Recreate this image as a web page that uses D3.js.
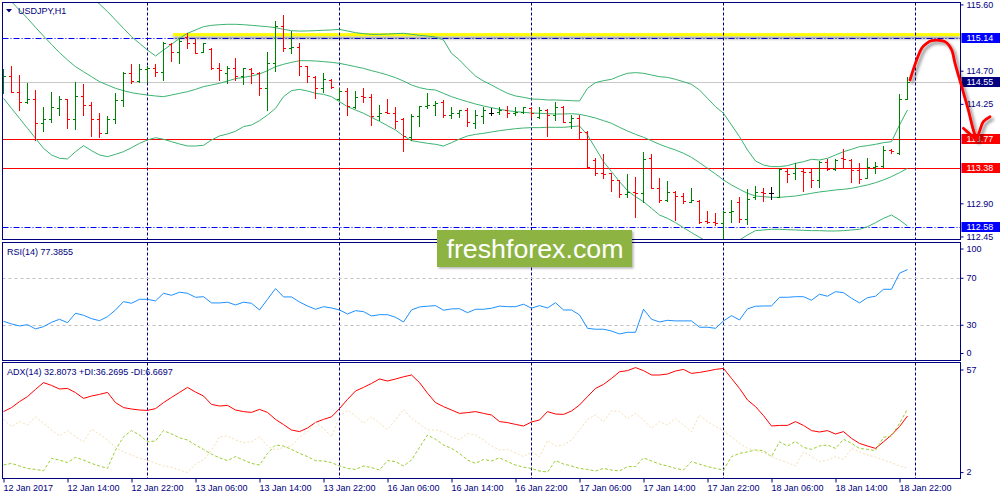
<!DOCTYPE html>
<html><head><meta charset="utf-8">
<script src="https://cdn.jsdelivr.net/npm/d3@7/dist/d3.min.js"></script>
<style>
body{margin:0;background:#fff}
svg{display:block}
text{font-family:"Liberation Sans",Arial,sans-serif}
</style>
</head><body>
<svg id="c" width="1000" height="500"></svg>
<script>
// ---------------- DATA ----------------
const symbolTitle = "USDJPY,H1";
const rsiTitle = "RSI(14) 77.3855";
const adxTitle = "ADX(14) 32.8073 +DI:36.2695 -DI:6.6697";

const tickIdx = [0,8,16,24,32,40,48,56,64,72,80,88,96,104,112];
const tickLabels = ["12 Jan 2017","12 Jan 14:00","12 Jan 22:00","13 Jan 06:00","13 Jan 14:00","13 Jan 22:00",
  "16 Jan 06:00","16 Jan 14:00","16 Jan 22:00","17 Jan 06:00","17 Jan 14:00","17 Jan 22:00",
  "18 Jan 06:00","18 Jan 14:00","18 Jan 22:00"];
const daySeparators = [18,42,66,90,114];

const open = [114.438,114.628,114.416,114.280,114.312,113.995,114.040,114.189,114.312,114.040,
114.361,114.235,114.045,113.859,114.040,114.303,114.665,114.565,114.719,114.732,
114.678,115.063,114.959,115.153,115.081,114.959,114.990,114.732,114.674,114.732,
114.628,114.719,114.665,114.461,114.809,115.307,115.004,115.027,114.769,114.619,
114.461,114.574,114.316,114.429,114.212,114.357,114.339,114.085,114.144,114.131,
114.040,113.805,114.085,114.221,114.235,114.280,114.099,114.122,114.167,113.995,
114.085,114.131,114.144,114.167,114.131,114.144,114.189,114.076,114.167,114.099,
114.212,114.008,114.054,113.873,113.488,113.316,113.307,113.217,113.022,113.058,
113.036,113.511,113.103,112.945,113.049,112.999,112.922,112.936,112.664,112.651,
112.637,112.782,112.913,112.682,112.981,113.058,113.045,112.990,113.343,113.307,
113.343,113.330,113.217,113.465,113.361,113.511,113.488,113.352,113.248,113.398,
113.411,113.624,113.588,114.316];
const high = [114.723,114.769,114.642,114.529,114.438,114.203,114.407,114.361,114.316,114.551,
114.515,114.271,114.122,114.090,114.393,114.678,114.787,114.791,114.769,114.787,
115.085,115.072,115.149,115.208,115.126,115.081,115.004,114.800,114.769,114.868,
114.741,114.732,114.687,114.959,115.375,115.456,115.239,115.081,114.769,114.628,
114.674,114.588,114.461,114.461,114.429,114.461,114.379,114.235,114.316,114.203,
114.063,114.108,114.226,114.393,114.293,114.303,114.212,114.167,114.189,114.167,
114.203,114.189,114.203,114.226,114.203,114.212,114.203,114.212,114.176,114.271,
114.221,114.099,114.099,113.882,113.511,113.570,113.316,113.217,113.298,113.262,
113.597,113.565,113.239,113.203,113.067,113.045,113.112,112.945,112.800,112.764,
112.800,112.945,112.990,113.090,113.135,113.112,113.126,113.375,113.366,113.443,
113.375,113.375,113.474,113.502,113.497,113.637,113.497,113.452,113.520,113.465,
113.678,113.637,114.379,114.610];
const low = [114.393,114.407,114.167,114.266,113.760,113.886,114.008,114.099,113.918,113.904,
114.099,113.814,113.805,113.859,113.995,114.221,114.538,114.551,114.551,114.628,
114.574,114.832,114.809,115.004,114.936,114.950,114.723,114.574,114.538,114.574,
114.515,114.529,114.370,114.167,114.701,114.968,114.936,114.642,114.551,114.325,
114.416,114.461,114.303,114.099,114.189,114.280,113.963,114.031,114.122,113.927,
113.615,113.760,113.950,114.189,114.099,114.076,114.054,114.067,113.950,113.927,
113.995,114.099,114.112,114.067,114.099,114.122,114.067,114.054,113.818,114.031,
113.999,113.927,113.769,113.384,113.284,113.239,113.072,112.990,112.990,112.719,
112.922,113.103,112.922,112.931,112.674,112.900,112.922,112.637,112.628,112.606,
112.425,112.651,112.651,112.619,112.959,112.931,112.959,112.990,113.194,113.230,
113.067,113.126,113.126,113.352,113.352,113.375,113.194,113.180,113.248,113.316,
113.398,113.588,113.570,114.312];
const close = [114.628,114.416,114.280,114.312,113.986,114.040,114.203,114.312,114.045,114.361,
114.235,114.045,113.859,114.045,114.303,114.665,114.565,114.719,114.732,114.678,
115.072,114.959,115.108,115.081,114.945,115.072,114.732,114.710,114.732,114.628,
114.732,114.665,114.470,114.809,115.307,115.004,115.027,114.769,114.628,114.461,
114.583,114.475,114.429,114.221,114.348,114.339,114.085,114.131,114.131,114.017,
113.814,114.085,114.226,114.235,114.266,114.099,114.131,114.167,114.008,114.099,
114.167,114.131,114.167,114.131,114.144,114.203,114.122,114.167,114.099,114.203,
114.008,114.054,113.873,113.388,113.316,113.298,113.217,113.022,113.049,113.036,
113.497,113.103,112.945,113.049,112.999,112.931,112.945,112.651,112.651,112.637,
112.787,112.800,112.682,112.959,113.058,113.045,113.045,113.366,113.298,113.375,
113.330,113.217,113.465,113.366,113.488,113.502,113.352,113.226,113.398,113.411,
113.624,113.610,114.316,114.552];

const bbUpper = [116.565,116.475,116.384,116.294,116.203,116.113,116.045,115.977,115.909,115.841,
115.773,115.683,115.606,115.502,115.389,115.275,115.162,115.072,114.981,114.900,
114.981,115.058,115.140,115.208,115.253,115.298,115.316,115.325,115.330,115.330,
115.325,115.316,115.307,115.298,115.284,115.262,115.244,115.238,115.240,115.244,
115.249,115.253,115.262,115.239,115.217,115.203,115.194,115.194,115.198,115.203,
115.208,115.194,115.180,115.171,115.158,115.117,114.936,114.846,114.732,114.628,
114.560,114.506,114.447,114.393,114.357,114.339,114.316,114.312,114.303,114.303,
114.298,114.293,114.289,114.461,114.538,114.565,114.583,114.628,114.665,114.674,
114.665,114.642,114.619,114.610,114.583,114.551,114.515,114.438,114.325,114.212,
114.122,113.963,113.805,113.624,113.474,113.420,113.398,113.398,113.411,113.443,
113.465,113.497,113.488,113.511,113.556,113.601,113.633,113.669,113.683,113.701,
113.723,113.737,113.963,114.167];
const bbMiddle = [115.750,115.637,115.524,115.411,115.289,115.171,115.058,114.945,114.846,114.755,
114.687,114.619,114.551,114.506,114.461,114.429,114.402,114.384,114.370,114.357,
114.348,114.370,114.393,114.416,114.447,114.484,114.506,114.529,114.560,114.592,
114.610,114.628,114.655,114.701,114.755,114.787,114.814,114.836,114.836,114.832,
114.823,114.814,114.800,114.778,114.755,114.732,114.701,114.674,114.642,114.606,
114.560,114.506,114.470,114.447,114.438,114.393,114.348,114.312,114.280,114.248,
114.221,114.198,114.176,114.158,114.144,114.135,114.126,114.122,114.117,114.112,
114.112,114.117,114.108,114.085,114.058,114.022,113.986,113.932,113.882,113.836,
113.796,113.750,113.701,113.660,113.624,113.579,113.524,113.452,113.375,113.298,
113.217,113.149,113.090,113.036,112.999,112.990,112.981,112.981,112.990,112.999,
113.017,113.036,113.054,113.067,113.081,113.090,113.103,113.126,113.149,113.180,
113.217,113.262,113.316,113.375];
const bbLower = [114.325,114.189,114.054,113.918,113.782,113.646,113.556,113.511,113.502,113.601,
113.683,113.615,113.556,113.533,113.565,113.601,113.655,113.714,113.760,113.791,
113.769,113.737,113.705,113.678,113.678,113.687,113.760,113.814,113.841,113.877,
113.941,113.963,114.022,114.099,114.189,114.348,114.429,114.447,114.425,114.393,
114.379,114.348,114.280,114.212,114.167,114.122,114.067,114.013,113.954,113.895,
113.814,113.750,113.732,113.714,113.701,113.678,113.723,113.773,113.814,113.836,
113.850,113.868,113.886,113.900,113.913,113.922,113.927,113.927,113.932,113.932,
113.932,113.941,113.950,113.827,113.646,113.465,113.330,113.194,113.072,112.990,
112.922,112.832,112.741,112.696,112.637,112.569,112.502,112.438,112.379,112.334,
112.312,112.334,112.402,112.470,112.529,112.538,112.547,112.547,112.542,112.538,
112.533,112.529,112.529,112.524,112.524,112.529,112.538,112.547,112.583,112.637,
112.696,112.741,112.674,112.592];

const rsi = [33.4,31.1,29.4,30.5,26.9,28.8,32.5,35.1,32.2,40.2,
38.5,35.6,33.9,37.3,43.0,50.1,48.7,52.1,52.1,50.7,
57.2,55.5,58.1,57.2,53.8,54.3,49.0,49.0,49.6,47.3,
49.6,48.7,43.0,52.1,61.2,54.1,54.1,49.8,46.4,43.6,
45.8,44.7,43.0,39.6,42.4,41.6,37.9,39.0,39.0,36.8,
32.8,43.0,45.6,46.2,46.7,42.8,43.9,44.1,40.7,43.6,
43.6,44.5,46.3,45.8,45.8,47.9,44.5,46.7,44.7,49.2,
43.0,43.0,38.8,27.4,26.6,26.6,25.1,22.6,24.0,24.0,
43.6,35.1,32.8,34.2,33.7,33.7,33.7,28.3,28.3,27.4,
33.7,38.2,34.5,43.9,46.2,46.4,46.4,53.8,53.8,54.3,
54.3,51.3,56.4,54.7,58.6,57.7,53.0,49.0,53.5,54.7,
60.6,60.6,74.3,77.4];

const adx = [35,37,40,42.5,46.1,49.5,48.1,46.3,46.6,44.5,
41.6,42.8,43.6,44.6,39.5,37,36.3,35.8,35.6,36.5,
39.5,42.1,44.6,47.1,44.8,42.8,38.6,37.8,38.1,35.8,
35,34.6,36.1,34.6,31.1,28.5,25.8,25,26.8,29.6,
31.1,32.4,36.5,41.1,45.3,47.1,49.1,51.3,50.3,51.3,
52.4,53.3,49.5,44.2,39.5,37.5,35.8,34.1,34.5,35,
34.1,33.3,30,29.5,28.6,27.8,29.8,30.8,35,33.8,
33.6,35.3,38.3,42.5,46.6,48.6,51.6,54.9,55.5,57,
55.5,53.3,53.3,53.8,55.3,56.1,54.1,54.6,55.3,56.1,
56.6,51.6,46.6,40.8,37.5,33,27.8,28.1,28.1,30,
28.1,25.5,24.8,25.5,23.8,25,21.6,19.1,17.8,16.6,
19.9,23.3,27.5,32.8];
const plusDI = [8.3,9.1,7.8,6.6,6.1,5.4,11.6,10.8,9.5,12.1,
10.8,9.1,7.8,6.6,15.8,22.4,25.5,23.3,19.9,20.3,
25.5,23.8,21.9,20.8,18.3,16.1,13.7,11.9,10.5,12.5,
10.8,9.1,8.3,14.1,18.3,17.8,16.1,14.1,12.5,10.5,
10.3,9.5,7.8,6.6,6.1,7.8,7,5.8,10.5,10,
7.8,10.8,17.1,23.3,21.2,18.3,16.6,14.1,10.8,9.1,
11.1,10.3,11.9,10,8.3,7.2,6.6,5.3,4.8,10.5,
8.8,7.8,6.6,6.1,5.3,6.6,5.8,5.3,7.5,7.5,
11.9,10.3,8.8,7.8,6.6,5.8,10,8.7,7.5,6.6,
5.8,12.5,14.1,14.9,15.8,15.5,12.5,19.9,17.8,20.1,
17.1,16.1,17.8,18.3,16.6,21.2,19.1,16.6,16.1,15.5,
22.2,22.8,29.1,36.3];
const minusDI = [31.1,27.5,30,28.3,32.4,29.1,25.8,22.8,25.5,22.4,
19.9,26.1,23.8,20.8,17.1,14.9,13.3,11.6,10.8,9.1,
7.8,7.2,5.8,4.5,8.8,10.8,15.8,22.4,22.8,20.8,
19.5,19.9,22.4,17.8,15.8,17.1,17.8,22.2,25,29.5,
26.7,22.4,32.4,35.8,32.8,29.1,32.4,29.1,26.1,30.8,
36.1,31.6,28.8,25.8,25.8,25,22.4,20.8,24.1,23.3,
20.8,17.8,15.8,16.1,14.4,12.5,14.9,12.5,20.5,17.8,
18.3,20.8,25.8,31.1,33.3,30,35.4,35,31.6,34.1,
30.8,26.7,30,28.3,31.6,28.3,25,33.3,30,27.5,
25.5,22.2,19.1,16.6,15.5,14.4,12.5,10.8,9.5,7.8,
14.9,12.5,10,10.8,12.5,11.1,16.6,14.9,13.3,12.2,
10.8,9.5,7.8,6.67];

const priceTicks = [115.60,114.70,114.25,112.90,112.45];
const rsiTicks = [100,70,30,0];
const rsiLevels = [70,30];
const adxTicks = [57,2];
const redLevels = [113.77,113.38];
const blueLevels = [115.14,112.58];
const yellowLine = {startIdx:21.2, price:115.19};
// hand-drawn forecast arrow: [bar index, price]
const arrowPath = [[113.31,114.574],[114.78,115.004],[115.40,115.072],[116.03,115.107],[117.28,115.107],
  [117.90,115.080],[118.53,114.981],[118.94,114.801],[119.78,114.483],[120.60,114.167],[121.23,113.895],[121.65,113.759]];
const arrowLeftArm = [[119.98,113.918],[121.65,113.759]];
const arrowRightArm = [[121.65,113.759],[122.06,113.895],[122.48,114.008],[123.31,114.076]];

// ---------------- LAYOUT ----------------
const N = close.length;
const L = 2.5, R = 960.5;
const P = {main:[2.5,239.5], rsi:[242.5,360.5], adx:[362.5,478.5]};
const NAVY = "#000080";
const FONT = "Liberation Sans, Arial, sans-serif";

const svg = d3.select("#c");
const x = d3.scaleLinear().domain([0,114]).range([3.5,915.5]);
const yP = d3.scaleLinear().domain([112.45,115.60]).range([236.45,4.42]);
const yR = d3.scaleLinear().domain([0,100]).range([360.5,243]);
const yA = d3.scaleLinear().domain([2,57]).range([477.6,367.6]);

const defs = svg.append("defs");
Object.entries(P).forEach(([k,[t,b]])=>{
  defs.append("clipPath").attr("id","clip-"+k).append("rect")
    .attr("x",L+0.5).attr("y",t+0.5).attr("width",R-L-1).attr("height",b-t-1);
});
function shadowFilter(id, dx, dy, sd, op){
  const f = defs.append("filter").attr("id",id).attr("filterUnits","userSpaceOnUse")
    .attr("x",0).attr("y",0).attr("width",1000).attr("height",500);
  f.append("feDropShadow").attr("dx",dx).attr("dy",dy).attr("stdDeviation",sd)
    .attr("flood-color","#000").attr("flood-opacity",op);
}
shadowFilter("shadow",0,2.5,1.6,0.45);
shadowFilter("ashadow",2.5,2.5,1.8,0.45);
shadowFilter("wshadow",1.5,1.5,1,0.3);

svg.append("rect").attr("width",1000).attr("height",500).attr("fill","#fff");

const gMain = svg.append("g").attr("clip-path","url(#clip-main)");
const gRsi = svg.append("g").attr("clip-path","url(#clip-rsi)");
const gAdx = svg.append("g").attr("clip-path","url(#clip-adx)");

const hline = (g, y, color, dash) => g.append("line")
  .attr("x1", L).attr("x2",R).attr("y1",y).attr("y2",y)
  .attr("stroke",color).attr("stroke-width",1).attr("stroke-dasharray",dash||null);
const crisp = v => Math.round(v)+0.5;

// ---- main panel ----
hline(gMain, crisp(yP(close[N-1])), "#c8c8c8");
redLevels.forEach(v=>hline(gMain, crisp(yP(v)), "#ff0000"));
blueLevels.forEach(v=>hline(gMain, crisp(yP(v)), "#0000ff", "6,2,1,2"));
gMain.append("rect").attr("x",x(yellowLine.startIdx)).attr("width",R-x(yellowLine.startIdx))
  .attr("y",yP(yellowLine.price)-1.5).attr("height",3)
  .attr("fill","#ffff00").attr("filter","url(#shadow)");

[["main",gMain],["rsi",gRsi],["adx",gAdx]].forEach(([k,g])=>{
  g.selectAll("line.sep").data(daySeparators).join("line").attr("class","sep")
    .attr("x1",d=>x(d)).attr("x2",d=>x(d)).attr("y1",P[k][0]).attr("y2",P[k][1])
    .attr("stroke",NAVY).attr("stroke-dasharray","3,2");
});

const bandLine = d3.line().x((d,i)=>x(i)).y(d=>yP(d));
[bbUpper,bbMiddle,bbLower].forEach(arr=>{
  gMain.append("path").attr("d",bandLine(arr)).attr("fill","none").attr("stroke","#3cb371").attr("stroke-width",1);
});

const idx = d3.range(N);
const col = i => close[i]>open[i] ? "#008000" : (close[i]<open[i] ? "#ff0000" : "#000000");
const barG = gMain.append("g");
barG.selectAll("line.hl").data(idx).join("line").attr("class","hl")
  .attr("x1",i=>x(i)).attr("x2",i=>x(i)).attr("y1",i=>Math.round(yP(high[i]))).attr("y2",i=>Math.round(yP(low[i]))+1)
  .attr("stroke",col);
barG.selectAll("line.o").data(idx).join("line").attr("class","o")
  .attr("x1",i=>x(i)-2.5).attr("x2",i=>x(i)+0.5).attr("y1",i=>crisp(yP(open[i]))).attr("y2",i=>crisp(yP(open[i])))
  .attr("stroke",col);
barG.selectAll("line.c").data(idx).join("line").attr("class","c")
  .attr("x1",i=>x(i)-0.5).attr("x2",i=>x(i)+2.5).attr("y1",i=>crisp(yP(close[i]))).attr("y2",i=>crisp(yP(close[i])))
  .attr("stroke",col);

// ---- RSI panel ----
rsiLevels.forEach(v=>hline(gRsi, crisp(yR(v)), "#c0c0c0", "3,3"));
gRsi.append("path").attr("d",d3.line().x((d,i)=>x(i)).y(d=>yR(d))(rsi))
  .attr("fill","none").attr("stroke","#1e90ff").attr("stroke-width",1);

// ---- ADX panel ----
const aLine = d3.line().x((d,i)=>x(i)).y(d=>yA(d));
gAdx.append("path").attr("d",aLine(adx)).attr("fill","none").attr("stroke","#ff0000").attr("stroke-width",1);
gAdx.append("path").attr("d",aLine(plusDI)).attr("fill","none").attr("stroke","#9acd32").attr("stroke-width",1).attr("stroke-dasharray","3,2");
gAdx.append("path").attr("d",aLine(minusDI)).attr("fill","none").attr("stroke","#f5deb3").attr("stroke-width",1).attr("stroke-dasharray","2,2");

// ---- frames ----
Object.values(P).forEach(([t,b])=>{
  svg.append("rect").attr("x",L).attr("y",t).attr("width",R-L).attr("height",b-t)
    .attr("fill","none").attr("stroke",NAVY).attr("stroke-width",1);
});

// ---- axes ----
function styleAxis(g){
  g.select(".domain").remove();
  g.attr("font-family",FONT).attr("font-size",9);
  g.selectAll("line").attr("stroke",NAVY);
  g.selectAll("text").attr("fill",NAVY);
}
const axMain = svg.append("g").attr("transform",`translate(${R},0)`)
  .call(d3.axisRight(yP).tickValues(priceTicks).tickSize(3).tickPadding(3).tickFormat(d3.format(".2f")));
styleAxis(axMain);

const rsiLabelY = {100: yR(100)+6, 70: yR(70), 30: yR(30), 0: yR(0)-7};
const axRsi = svg.append("g").attr("transform",`translate(${R},0)`)
  .call(d3.axisRight(yR).tickValues(rsiTicks).tickSize(3).tickPadding(3));
axRsi.selectAll(".tick").attr("transform",d=>`translate(0,${rsiLabelY[d]})`);
styleAxis(axRsi);

const adxLabelY = {57: yA(57)+2.4, 2: yA(2)-5};
const axAdx = svg.append("g").attr("transform",`translate(${R},0)`)
  .call(d3.axisRight(yA).tickValues(adxTicks).tickSize(3).tickPadding(3));
axAdx.selectAll(".tick").attr("transform",d=>`translate(0,${adxLabelY[d]})`);
styleAxis(axAdx);

const axTime = svg.append("g").attr("transform",`translate(0,${P.adx[1]})`)
  .call(d3.axisBottom(x).tickValues(tickIdx).tickSize(4).tickPadding(2).tickFormat((d,i)=>tickLabels[i]));
styleAxis(axTime);
axTime.selectAll("text").attr("text-anchor","start").attr("x",-0.5);

// ---- price label boxes ----
const boxes = [
  {v:blueLevels[0], bg:"#0000ff"},
  {v:close[N-1], bg:"#000080", txt:"114.55"},
  {v:redLevels[0], bg:"#ff0000"},
  {v:redLevels[1], bg:"#ff0000"},
  {v:blueLevels[1], bg:"#0000ff"}
];
const bx = svg.append("g");
boxes.forEach(b=>{
  const yy = Math.round(yP(b.v));
  bx.append("rect").attr("x",R+1).attr("y",yy-5).attr("width",1000-R-1).attr("height",10).attr("fill",b.bg);
  bx.append("text").attr("x",R+6).attr("y",yy).attr("dy","0.35em").attr("fill","#fff")
    .attr("font-size",9).text(b.txt || b.v.toFixed(2));
});

// ---- hand-drawn arrow ----
const ap = d3.line().x(d=>x(d[0])).y(d=>yP(d[1])).curve(d3.curveCatmullRom.alpha(0.5));
const ag = svg.append("g").attr("filter","url(#ashadow)");
[arrowPath, arrowLeftArm, arrowRightArm].forEach(pts=>{
  ag.append("path").attr("d",ap(pts)).attr("fill","none").attr("stroke","#ff0000")
    .attr("stroke-width",2.8).attr("stroke-linecap","round").attr("stroke-linejoin","round");
});

// ---- titles ----
svg.append("path").attr("d","M6,9 L12,9 L9,12.5 Z").attr("fill",NAVY);
svg.append("text").attr("x",18).attr("y",14).attr("font-size",9).attr("fill",NAVY).text(symbolTitle);
svg.append("text").attr("x",7).attr("y",255).attr("font-size",9).attr("fill",NAVY).text(rsiTitle);
svg.append("text").attr("x",7).attr("y",375).attr("font-size",9).attr("fill",NAVY).text(adxTitle);

// ---- watermark ----
const wm = svg.append("g");
wm.append("rect").attr("x",437).attr("y",230).attr("width",195).attr("height",37).attr("fill","#8db443").attr("filter","url(#wshadow)");
wm.append("text").attr("x",446.5).attr("y",257.5).attr("font-family","'Open Sans', sans-serif").attr("font-size",25.5)
  .attr("fill","#fff").attr("textLength",177).attr("lengthAdjust","spacingAndGlyphs").text("freshforex.com");
</script>
</body></html>
